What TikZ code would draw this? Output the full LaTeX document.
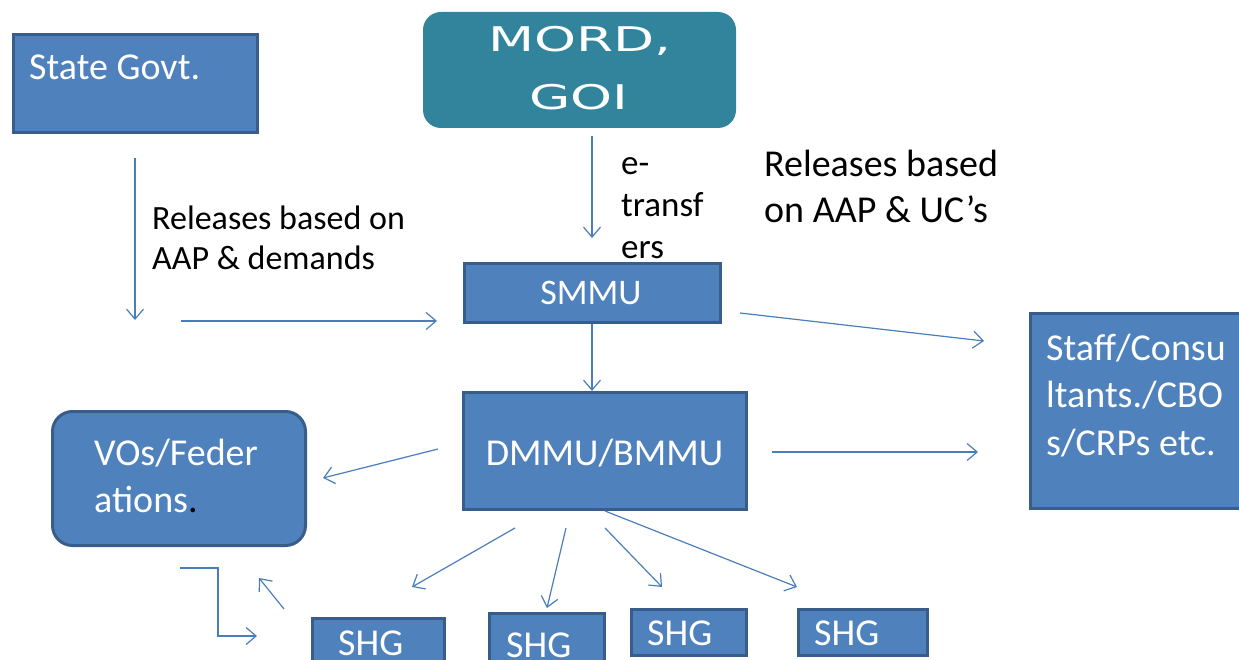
\documentclass[tikz,border=0pt]{standalone}
\usepackage{fontspec}
\setmainfont{Carlito}
\newfontfamily\mordfont{DejaVu Sans}
\usetikzlibrary{arrows.meta}
\definecolor{boxfill}{HTML}{4F81BD}
\definecolor{boxline}{HTML}{385D8A}
\definecolor{mordteal}{HTML}{31849B}
\definecolor{arrowc}{HTML}{4A7EBB}
\begin{document}
\begin{tikzpicture}[x=1pt,y=-1pt,
  box/.style={draw=boxline, line width=3pt, fill=boxfill, inner sep=0pt},
  conn/.style={draw=arrowc, line width=1.2pt, -{Straight Barb[length=10pt,width=17pt,line width=1.2pt]}},
  lbl/.style={anchor=base west, inner sep=0pt, text=black},
  wlbl/.style={anchor=base west, inner sep=0pt, text=white},
  f34/.style={font=\fontsize{34}{41}\selectfont},
  f35/.style={font=\fontsize{35}{42}\selectfont},
  f36/.style={font=\fontsize{36}{43}\selectfont},
  f38/.style={font=\fontsize{38}{46}\selectfont}]
\useasboundingbox (0,0) rectangle (1239,660);

% boxes
\node[box, minimum width=244pt, minimum height=98pt] (sg) at (135.5,83.5) {};
\node[fill=mordteal, rounded corners=18pt, minimum width=313pt, minimum height=116pt, inner sep=0pt] (mord) at (579.5,70) {};
\node[box, minimum width=256pt, minimum height=59pt] (smmu) at (592.5,293) {};
\node[box, minimum width=283pt, minimum height=117pt] (dmmu) at (605,451) {};
\node[box, minimum width=228pt, minimum height=195pt] (staff) at (1144.5,411) {};
\node[box, rounded corners=20pt, minimum width=253pt, minimum height=134pt] (vos) at (179,478.5) {};
\node[box, minimum width=132pt, minimum height=59pt] (shg1) at (378.5,648) {};
\node[box, minimum width=115pt, minimum height=65pt] (shg2) at (547,646) {};
\node[box, minimum width=115pt, minimum height=46pt] (shg3) at (689,632.5) {};
\node[box, minimum width=129pt, minimum height=46pt] (shg4) at (863,632.5) {};

% box texts
\node[wlbl, f38] (sgt) at (29,80) {State Govt.};
\node[anchor=base, inner sep=0pt, text=white, font=\mordfont\fontsize{34}{40}\selectfont] (mordt1) at (580,52) {\scalebox{1.57}[1]{MORD,}};
\node[anchor=base, inner sep=0pt, text=white, font=\mordfont\fontsize{34}{40}\selectfont] (mordt2) at (579,110) {\scalebox{1.57}[1]{GOI}};
\node[anchor=base, inner sep=0pt, text=white, f36] (smmut) at (591,305) {SMMU};
\node[anchor=base, inner sep=0pt, text=white, f38] (dmmut) at (604.5,465) {DMMU/BMMU};
\node[wlbl, f38] (stafft1) at (1046,360) {Staff/Consu};
\node[wlbl, f38] (stafft2) at (1046,407) {ltants./CBO};
\node[wlbl, f38] (stafft3) at (1046,455) {s/CRPs etc.};
\node[wlbl, f38] (vost1) at (94,465) {VOs/Feder};
\node[wlbl, f38] (vost2) at (94,512) {ations\textcolor{black}{.}};
\node[wlbl, f38] (shgt1) at (338,655) {SHG};
\node[wlbl, f38] (shgt2) at (506,657) {SHG};
\node[wlbl, f38] (shgt3) at (647,645) {SHG};
\node[wlbl, f38] (shgt4) at (814,645) {SHG};

% labels
\node[lbl, f34] (rel1a) at (152,230) {Releases based on};
\node[lbl, f34] (rel1b) at (152,270) {AAP \& demands};
\node[lbl, f35] (et1) at (621,175) {e-};
\node[lbl, f35] (et2) at (621,217) {transf};
\node[lbl, f35] (et3) at (621,259) {ers};
\node[lbl, f38] (rel2a) at (764,177) {Releases based};
\node[lbl, f38] (rel2b) at (764,223) {on AAP \& UC’s};

% free connector ends
\coordinate (a1) at (135,158); \coordinate (a2) at (135,320);
\coordinate (b1) at (181,321); \coordinate (b2) at (437,321);
\coordinate (m1) at (592,136); \coordinate (m2) at (592,238);
\coordinate (s1) at (740,313); \coordinate (s2) at (984,341);
\coordinate (d1) at (772,452); \coordinate (d2) at (978,452);
\coordinate (dv1) at (438,449); \coordinate (dv2) at (323,478);
\coordinate (h1a) at (515,528); \coordinate (h1b) at (412,587);
\coordinate (h2a) at (566,528); \coordinate (h2b) at (547,608);
\coordinate (h3a) at (605,528); \coordinate (h3b) at (662,587);
\coordinate (h4b) at (797,587);
\coordinate (v1) at (180,568); \coordinate (vk) at (218,636); \coordinate (v2) at (257,636);
\coordinate (u1) at (284,609); \coordinate (u2) at (259,578);

% connectors
\draw[conn] (a1) -- (a2);
\draw[conn] (b1) -- (b2);
\draw[conn] (m1) -- (m2);
\draw[conn] (smmu.south -| m1) -- (dmmu.north -| m1);
\draw[conn] (s1) -- (s2);
\draw[conn] (d1) -- (d2);
\draw[conn] (dv1) -- (dv2);
\draw[conn] (h1a) -- (h1b);
\draw[conn] (h2a) -- (h2b);
\draw[conn] (h3a) -- (h3b);
\draw[conn] (dmmu.south) -- (h4b);
\draw[conn] (v1) -| (vk) -- (v2);
\draw[conn] (u1) -- (u2);
\end{tikzpicture}
\end{document}
